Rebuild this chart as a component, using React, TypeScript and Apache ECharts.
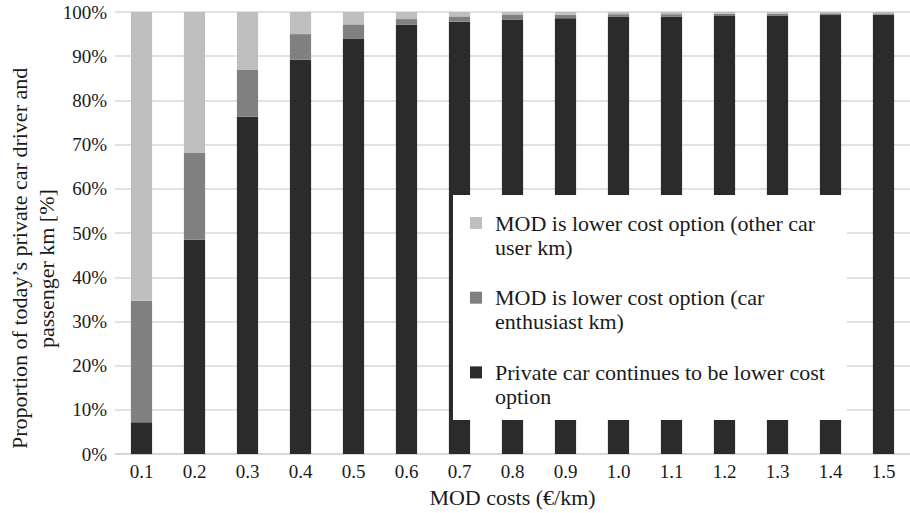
import React, { useEffect, useRef } from "react";
import * as echarts from "echarts";

const categories = ["0.1", "0.2", "0.3", "0.4", "0.5", "0.6", "0.7", "0.8", "0.9", "1.0", "1.1", "1.2", "1.3", "1.4", "1.5"];
const privateCar = [7.2, 48.5, 76.3, 89.2, 93.9, 97.1, 97.8, 98.3, 98.6, 98.9, 99.0, 99.1, 99.2, 99.3, 99.4];
const enthusiast = [27.5, 19.7, 10.7, 5.8, 3.3, 1.3, 1.2, 1.0, 0.8, 0.6, 0.5, 0.5, 0.4, 0.4, 0.3];
const otherUser = [65.3, 31.8, 13.0, 5.0, 2.8, 1.6, 1.0, 0.7, 0.6, 0.5, 0.5, 0.4, 0.4, 0.3, 0.3];
const yTicks = [0, 10, 20, 30, 40, 50, 60, 70, 80, 90, 100];

const nameOther = "MOD is lower cost option (other car\nuser km)";
const nameEnth = "MOD is lower cost option (car\nenthusiast km)";
const namePriv = "Private car continues to be lower cost\noption";
const yTitleLines = ["Proportion of today\u2019s private car driver and", "passenger km [%]"];
const xTitle = "MOD costs (€/km)";

const FONT = "'Liberation Serif', 'Times New Roman', serif";

export default function App() {
  const ref = useRef<HTMLDivElement>(null);
  useEffect(() => {
    if (!ref.current) return;
    const chart = echarts.init(ref.current, undefined, { renderer: "svg" });
    const titleStyle = {
      fontFamily: FONT,
      fontSize: 22,
      fill: "#1a1a1a",
      align: "left",
      verticalAlign: "middle",
    };
    chart.setOption({
      animation: false,
      textStyle: { fontFamily: FONT, color: "#1a1a1a" },
      grid: { left: 115, right: -1, top: 12, bottom: 57, containLabel: false },
      graphic: [
        {
          type: "rect",
          z: 3,
          shape: { x: 453, y: 195, width: 394, height: 225 },
          style: { fill: "#ffffff" },
          silent: true,
        },
        {
          type: "text",
          z: 3,
          x: 19.5,
          y: 449,
          rotation: Math.PI / 2,
          silent: true,
          style: { ...titleStyle, text: yTitleLines[0] },
        },
        {
          type: "text",
          z: 3,
          x: 46.5,
          y: 348,
          rotation: Math.PI / 2,
          silent: true,
          style: { ...titleStyle, text: yTitleLines[1] },
        },
      ],
      legend: {
        orient: "vertical",
        left: 470,
        top: 187,
        z: 5,
        data: [nameOther, nameEnth, namePriv],
        itemWidth: 12,
        itemHeight: 12,
        itemGap: 2.7,
        icon: "rect",
        padding: 0,
        selectedMode: false,
        formatter: (n: string) => "\n" + n,
        textStyle: {
          fontFamily: FONT,
          fontSize: 22,
          color: "#1a1a1a",
          lineHeight: 24,
          padding: [0, 0, 0, 8],
        },
      },
      xAxis: {
        type: "category",
        data: categories,
        name: xTitle,
        nameLocation: "middle",
        nameGap: 29,
        nameTextStyle: { fontFamily: FONT, fontSize: 22, color: "#1a1a1a" },
        axisLine: { lineStyle: { color: "#d4d4d4", width: 1.5 } },
        axisTick: { show: false },
        axisLabel: { fontFamily: FONT, fontSize: 19, color: "#1a1a1a", margin: 8 },
      },
      yAxis: {
        type: "value",
        min: yTicks[0],
        max: yTicks[yTicks.length - 1],
        interval: 10,
        axisLine: { show: false },
        axisTick: { show: false },
        axisLabel: { fontFamily: FONT, fontSize: 19, color: "#1a1a1a", margin: 8, formatter: "{value}%" },
        splitLine: { lineStyle: { color: "#d9d9d9", width: 1.5 } },
      },
      series: [
        { name: namePriv, type: "bar", stack: "s", data: privateCar, barWidth: "40%", itemStyle: { color: "#2b2b2b" } },
        { name: nameEnth, type: "bar", stack: "s", data: enthusiast, itemStyle: { color: "#808080" } },
        { name: nameOther, type: "bar", stack: "s", data: otherUser, itemStyle: { color: "#bfbfbf" } },
      ],
    });
    return () => chart.dispose();
  }, []);
  return <div ref={ref} style={{ position: "fixed", left: 0, top: 0, width: 910, height: 513, background: "#fff" }} />;
}
